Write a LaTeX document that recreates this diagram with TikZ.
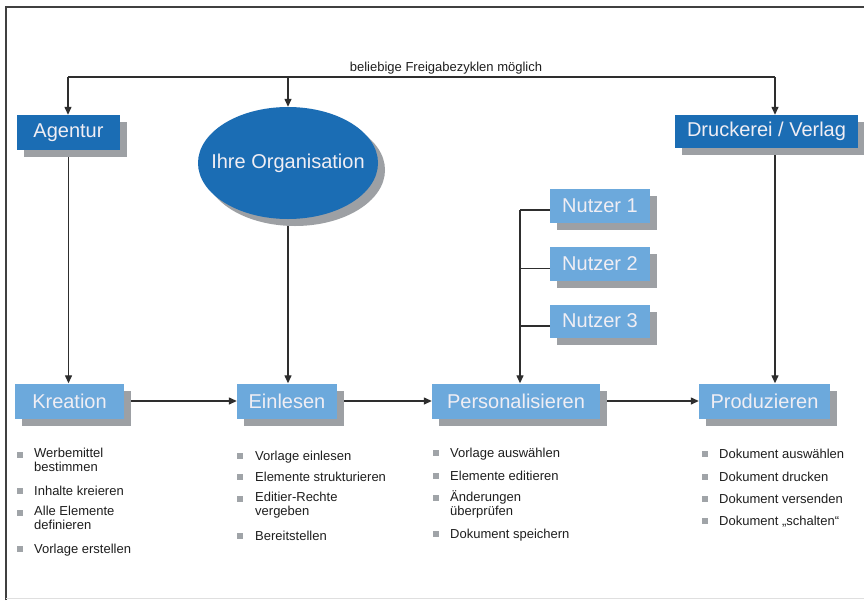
\documentclass[tikz,border=0pt]{standalone}
\usepackage{fontspec}
\setmainfont{Liberation Sans}
\usetikzlibrary{arrows.meta,shapes.geometric,shadows,calc}
\definecolor{darkblue}{HTML}{1B6DB4}
\definecolor{lightblue}{HTML}{6CA9DC}
\definecolor{shadowgray}{HTML}{9DA0A4}
\definecolor{linegray}{HTML}{2E2E2E}
\definecolor{boxtext}{HTML}{F0EEF4}
\definecolor{bulletgray}{HTML}{A0A4A8}
\definecolor{listtext}{HTML}{1E1E1E}
\definecolor{framegray}{HTML}{404040}
\newcommand{\mytopstrut}{\rule{0pt}{12pt}}
\begin{document}
\begin{tikzpicture}[x=1pt,y=-1pt,
 shad/.style={drop shadow={shadow xshift=7pt,shadow yshift=-7pt,fill=shadowgray,opacity=1}},
 boxfont/.style={font=\fontsize{20}{24}\selectfont},
 darkbox/.style={rectangle,fill=darkblue,text=boxtext,boxfont,inner sep=0pt,shad},
 lightbox/.style={rectangle,fill=lightblue,text=boxtext,boxfont,inner sep=0pt,shad},
 conn/.style={draw=linegray,line width=1.3pt},
 arr/.style={conn,-{Triangle[length=8pt,width=7pt]}},
 bulletsq/.style={rectangle,fill=bulletgray,minimum size=6pt,inner sep=0pt},
 listitem/.style={anchor=north west,inner sep=0pt,align=left,text=listtext,
   font=\fontsize{13}{14}\selectfont,execute at begin node=\mytopstrut},
]
\useasboundingbox (0,0) rectangle (864,600);
\fill[white] (0,0) rectangle (864,600);
% frame
\draw[line width=2pt,draw=framegray] (6,600) -- (6,7) -- (864,7);
\draw[line width=1pt,draw=gray!25] (6,598) -- (864,598);

% top bus
\coordinate (busL) at (68,77);
\coordinate (busM) at (288,77);
\coordinate (busR) at (775,77);
\node[font=\fontsize{13}{15}\selectfont,text=listtext,anchor=base,inner sep=0pt] (buslabel) at (446,71) {beliebige Freigabezyklen möglich};

% top row
\node[darkbox,minimum width=103pt,minimum height=35pt] (agentur) at (68.5,132.5) {Agentur};
\node[darkbox,minimum width=183pt,minimum height=33pt] (druck) at (766.5,131.5) {Druckerei / Verlag};
\node[ellipse,fill=darkblue,minimum width=180pt,minimum height=112pt,inner sep=0pt,shad,
  label={[boxfont,text=boxtext,inner sep=0pt]center:Ihre Organisation}] (org) at (288,163) {};

% users
\node[lightbox,minimum width=100pt,minimum height=34pt] (n1) at (600,206) {Nutzer 1};
\node[lightbox,minimum width=100pt,minimum height=34pt] (n2) at (600,263.5) {Nutzer 2};
\node[lightbox,minimum width=100pt,minimum height=33pt] (n3) at (600,321) {Nutzer 3};

% process row
\node[lightbox,minimum width=109pt,minimum height=35pt] (kreation) at (69.5,401) {Kreation};
\node[lightbox,minimum width=100pt,minimum height=35pt] (einlesen) at (287,401) {Einlesen};
\node[lightbox,minimum width=168pt,minimum height=35pt] (pers) at (516,401) {Personalisieren};
\node[lightbox,minimum width=131pt,minimum height=35pt] (prod) at (764.5,401) {Produzieren};

% bus connectors
\draw[conn] (busL) -- (busR);
\draw[arr] (busL) -- (busL |- agentur.north);
\draw[arr] (busM) -- (org.north);
\draw[arr] (busR) -- (busR |- druck.north);

% vertical connectors
\draw[arr] ([yshift=-7pt]agentur.south) -- (agentur.south |- kreation.north);
\draw[arr] ([yshift=-7pt]org.south) -- (org.south |- einlesen.north);
\coordinate (dbot) at (busR |- druck.south);
\draw[arr] ([yshift=-7pt]dbot) -- (dbot |- prod.north);

% horizontal connectors
\draw[arr] ([xshift=7pt]kreation.east) -- (einlesen.west);
\draw[arr] ([xshift=7pt]einlesen.east) -- (pers.west);
\draw[arr] ([xshift=7pt]pers.east) -- (prod.west);

% user bracket
\coordinate (brk) at (520,210);
\draw[conn] ([yshift=-4pt]n1.west) -- (brk);
\draw[arr] (brk) -- (brk |- pers.north);
\draw[conn] ([yshift=-5pt]n2.west) -- ++(-30,0);
\draw[conn] ([yshift=-5pt]n3.west) -- ++(-30,0);

% lists: Kreation
\node[bulletsq] (kb1) at (20,455) {};
\node[listitem] (kt1) at (34,447.5) {Werbemittel\\bestimmen};
\node[bulletsq] (kb2) at (20,491) {};
\node[listitem] (kt2) at (34,483.5) {Inhalte kreieren};
\node[bulletsq] (kb3) at (20,513) {};
\node[listitem] (kt3) at (34,505.5) {Alle Elemente\\definieren};
\node[bulletsq] (kb4) at (20,549) {};
\node[listitem] (kt4) at (34,541.5) {Vorlage erstellen};

% lists: Einlesen
\node[bulletsq] (eb1) at (240,456) {};
\node[listitem] (et1) at (255,448.5) {Vorlage einlesen};
\node[bulletsq] (eb2) at (240,477) {};
\node[listitem] (et2) at (255,469.5) {Elemente strukturieren};
\node[bulletsq] (eb3) at (240,499) {};
\node[listitem] (et3) at (255,491.5) {Editier-Rechte\\vergeben};
\node[bulletsq] (eb4) at (240,536) {};
\node[listitem] (et4) at (255,528.5) {Bereitstellen};

% lists: Personalisieren
\node[bulletsq] (pb1) at (436,453) {};
\node[listitem] (pt1) at (450,445.5) {Vorlage auswählen};
\node[bulletsq] (pb2) at (436,476) {};
\node[listitem] (pt2) at (450,468.5) {Elemente editieren};
\node[bulletsq] (pb3) at (436,498) {};
\node[listitem] (pt3) at (450,490.5) {Änderungen\\überprüfen};
\node[bulletsq] (pb4) at (436,534) {};
\node[listitem] (pt4) at (450,526.5) {Dokument speichern};

% lists: Produzieren
\node[bulletsq] (rb1) at (705,454) {};
\node[listitem] (rt1) at (719,446.5) {Dokument auswählen};
\node[bulletsq] (rb2) at (705,477) {};
\node[listitem] (rt2) at (719,469.5) {Dokument drucken};
\node[bulletsq] (rb3) at (705,499) {};
\node[listitem] (rt3) at (719,491.5) {Dokument versenden};
\node[bulletsq] (rb4) at (705,521) {};
\node[listitem] (rt4) at (719,513.5) {Dokument „schalten“};
\end{tikzpicture}
\end{document}
